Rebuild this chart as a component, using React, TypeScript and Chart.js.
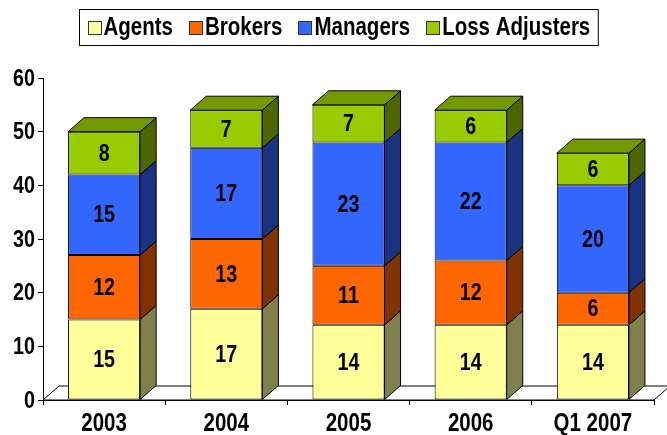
import React, { useEffect, useRef } from 'react';
import { Chart, registerables } from 'chart.js';

Chart.register(...registerables);

const categories = ['2003', '2004', '2005', '2006', 'Q1 2007'];
const seriesNames = ['Agents', 'Brokers', 'Managers', 'Loss Adjusters'];
const agents = [15, 17, 14, 14, 14];
const brokers = [12, 13, 11, 12, 6];
const managers = [15, 17, 23, 22, 20];
const lossAdjusters = [8, 7, 7, 6, 6];
const yTicks = [0, 10, 20, 30, 40, 50, 60];

const frontColors = ['#FFFF99', '#FF6600', '#3366FF', '#99CC00'];
const sideColors = ['#80804D', '#803300', '#1A3380', '#4D6600'];
const topColors = ['#BFBF73', '#BF4D00', '#264DBF', '#739900'];

const FONT = '"Liberation Sans", Arial, sans-serif';
const NARROW = 0.82;
const DX = 16;
const DY = 14;

function narrowText(ctx: CanvasRenderingContext2D, text: string, x: number, y: number, align: CanvasTextAlign) {
  ctx.save();
  ctx.translate(x, y);
  ctx.scale(NARROW, 1);
  ctx.textAlign = align;
  ctx.textBaseline = 'middle';
  ctx.fillText(text, 0, 0);
  ctx.restore();
}

const threeD = {
  id: 'threeD',
  beforeDatasetsDraw(chart: any) {
    const { ctx, chartArea } = chart;
    ctx.save();
    ctx.beginPath();
    ctx.moveTo(chartArea.left, chartArea.bottom);
    ctx.lineTo(chartArea.right, chartArea.bottom);
    ctx.lineTo(chartArea.right + DX, chartArea.bottom - DY);
    ctx.lineTo(chartArea.left + DX, chartArea.bottom - DY);
    ctx.closePath();
    ctx.fillStyle = '#FFFFFF';
    ctx.fill();
    ctx.strokeStyle = '#000000';
    ctx.lineWidth = 1;
    ctx.stroke();
    ctx.restore();
  },
  afterDatasetsDraw(chart: any) {
    const { ctx } = chart;
    const n = chart.data.datasets.length;
    ctx.save();
    ctx.lineWidth = 1;
    ctx.strokeStyle = '#000000';
    for (let i = 0; i < n; i++) {
      const meta = chart.getDatasetMeta(i);
      meta.data.forEach((el: any) => {
        const p = el.getProps(['x', 'y', 'base', 'width'], true);
        const left = p.x - p.width / 2;
        const right = p.x + p.width / 2;
        const top = Math.min(p.y, p.base);
        const bottom = Math.max(p.y, p.base);
        ctx.beginPath();
        ctx.moveTo(right, bottom);
        ctx.lineTo(right + DX, bottom - DY);
        ctx.lineTo(right + DX, top - DY);
        ctx.lineTo(right, top);
        ctx.closePath();
        ctx.fillStyle = sideColors[i];
        ctx.fill();
        ctx.stroke();
        if (i === n - 1) {
          ctx.beginPath();
          ctx.moveTo(left, top);
          ctx.lineTo(left + DX, top - DY);
          ctx.lineTo(right + DX, top - DY);
          ctx.lineTo(right, top);
          ctx.closePath();
          ctx.fillStyle = topColors[i];
          ctx.fill();
          ctx.stroke();
        }
      });
    }
    ctx.fillStyle = '#000000';
    ctx.font = `bold 24px ${FONT}`;
    for (let i = 0; i < n; i++) {
      const meta = chart.getDatasetMeta(i);
      const ds = chart.data.datasets[i];
      meta.data.forEach((el: any, j: number) => {
        const p = el.getProps(['x', 'y', 'base'], true);
        narrowText(ctx, String(ds.data[j]), p.x, (p.y + p.base) / 2 + 1, 'center');
      });
    }
    ctx.restore();
  },
  afterDraw(chart: any) {
    const { ctx, scales } = chart;
    ctx.save();
    ctx.fillStyle = '#000000';
    // axis labels
    ctx.font = `bold 24px ${FONT}`;
    const ys = scales.y;
    ys.ticks.forEach((t: any, i: number) => {
      narrowText(ctx, String(t.value), ys.right - 8, ys.getPixelForTick(i) + 1, 'right');
    });
    ctx.font = `bold 25px ${FONT}`;
    const xs = scales.x;
    xs.ticks.forEach((_t: any, i: number) => {
      narrowText(ctx, String(chart.data.labels[i]), xs.getPixelForTick(i), xs.top + 24, 'center');
    });

    // legend
    ctx.font = `bold 25px ${FONT}`;
    const box = 13;
    const gapText = 3;
    const gapItem = 16;
    const pad = 8;
    const labels = chart.data.datasets.map((d: any) => d.label);
    const widths = labels.map((l: string) => ctx.measureText(l).width * NARROW);
    const total = widths.reduce((a: number, b: number) => a + b, 0) + labels.length * (box + gapText) + (labels.length - 1) * gapItem + pad * 2;
    const cx = 338.5;
    const bx = Math.round(cx - total / 2) + 0.5;
    const by = 9.5;
    const bh = 36;
    ctx.fillStyle = '#FFFFFF';
    ctx.fillRect(bx, by, total, bh);
    ctx.strokeStyle = '#000000';
    ctx.lineWidth = 1;
    ctx.strokeRect(bx, by, total, bh);
    let x = bx + pad;
    const cy = by + bh / 2;
    labels.forEach((l: string, i: number) => {
      ctx.fillStyle = frontColors[i];
      ctx.fillRect(Math.round(x) + 0.5, Math.round(cy - box / 2) + 0.5, box, box);
      ctx.strokeStyle = '#333333';
      ctx.strokeRect(Math.round(x) + 0.5, Math.round(cy - box / 2) + 0.5, box, box);
      ctx.fillStyle = '#000000';
      narrowText(ctx, l, x + box + gapText, cy + 1, 'left');
      x += box + gapText + widths[i] + gapItem;
    });
    ctx.restore();
  },
};

export default function App() {
  const ref = useRef<HTMLCanvasElement | null>(null);
  useEffect(() => {
    document.body.style.margin = '0';
    const canvas = ref.current;
    if (!canvas) return;
    const seriesData = [agents, brokers, managers, lossAdjusters];
    const chart = new Chart(canvas, {
      type: 'bar',
      data: {
        labels: categories,
        datasets: seriesNames.map((name, i) => ({
          label: name,
          data: seriesData[i],
          backgroundColor: frontColors[i],
          borderColor: '#000000',
          borderWidth: 1,
          borderSkipped: false,
          categoryPercentage: 1,
          barPercentage: 0.59,
        })),
      },
      options: {
        responsive: false,
        animation: false,
        devicePixelRatio: 1,
        layout: { padding: { top: 78, right: 13, left: 0, bottom: 0 } },
        plugins: {
          legend: { display: false },
          tooltip: { enabled: false },
        },
        scales: {
          x: {
            stacked: true,
            afterFit(scale: any) {
              scale.height = 35;
            },
            grid: {
              display: true,
              offset: true,
              drawOnChartArea: false,
              drawTicks: true,
              tickLength: 5,
              color: '#000000',
            },
            border: { display: true, color: '#000000', width: 1 },
            ticks: { display: false },
          },
          y: {
            stacked: true,
            min: yTicks[0],
            max: yTicks[yTicks.length - 1],
            afterFit(scale: any) {
              scale.width = 43;
            },
            grid: {
              display: true,
              drawOnChartArea: false,
              drawTicks: true,
              tickLength: 5,
              color: '#000000',
            },
            border: { display: true, color: '#000000', width: 1 },
            ticks: { display: false, stepSize: 10 },
          },
        },
      },
      plugins: [threeD],
    });
    return () => chart.destroy();
  }, []);
  return (
    <div style={{ width: 667, height: 435 }}>
      <canvas ref={ref} width={667} height={435} style={{ width: 667, height: 435, display: 'block' }} />
    </div>
  );
}
